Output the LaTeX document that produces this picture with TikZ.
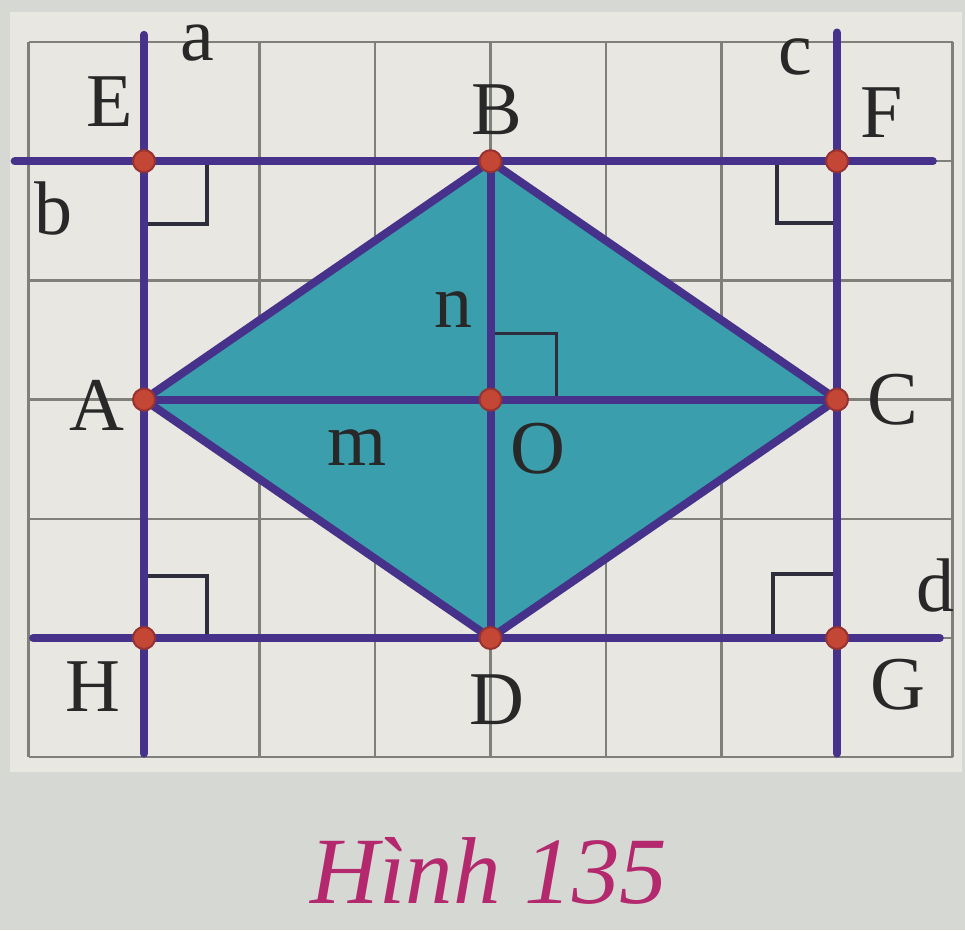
\documentclass[tikz,border=0pt]{standalone}
\usepackage{fontspec}
\setmainfont{Liberation Serif}
\definecolor{bgout}{RGB}{214,216,212}
\definecolor{paper}{RGB}{233,231,225}
\definecolor{gridc}{RGB}{128,128,122}
\definecolor{navy}{RGB}{70,50,138}
\definecolor{teal}{RGB}{58,158,172}
\definecolor{dotc}{RGB}{196,70,52}
\definecolor{dotring}{RGB}{150,50,50}
\definecolor{markc}{RGB}{45,45,60}
\definecolor{capc}{RGB}{180,40,110}
\definecolor{txt}{RGB}{40,40,40}
\tikzset{
  gridline/.style={draw=gridc,line width=2.5pt},
  bold/.style={draw=navy,line width=8pt,line cap=round},
  rhomb/.style={fill=teal,draw=navy,line width=8pt,line join=round},
  rightmark/.style={draw=markc,line width=3.5pt},
  ptdot/.style={fill=dotc,draw=dotring,line width=2pt},
  lbl/.style={text=txt,font=\fontsize{76}{80}\selectfont,inner sep=0pt,anchor=center},
}
\begin{document}
\begin{tikzpicture}[x=1pt,y=-1pt]
\useasboundingbox (0,0) rectangle (965,930);
\fill[bgout] (0,0) rectangle (965,930);
\fill[paper] (10,12) rectangle (962,772);
\begin{scope}[xshift=28.5pt,yshift=-42pt,x=115.5pt,y=-119.2pt]
  \foreach \i in {0,...,8} \draw[gridline] (\i,0) -- (\i,6);
  \foreach \j in {0,...,6} \draw[gridline] (0,\j) -- (8,\j);
  \coordinate (E) at (1,1);
  \coordinate (B) at (4,1);
  \coordinate (F) at (7,1);
  \coordinate (A) at (1,3);
  \coordinate (O) at (4,3);
  \coordinate (C) at (7,3);
  \coordinate (H) at (1,5);
  \coordinate (D) at (4,5);
  \coordinate (G) at (7,5);
  \coordinate (a1) at (1,-0.06);
  \coordinate (a2) at (1,5.97);
  \coordinate (c1) at (7,-0.08);
  \coordinate (c2) at (7,5.97);
  \coordinate (b1) at (-0.12,1);
  \coordinate (b2) at (7.83,1);
  \coordinate (d1) at (0.04,5);
  \coordinate (d2) at (7.89,5);
  \path[rhomb] (A) -- (B) -- (C) -- (D) -- cycle;
  \draw[rightmark] (E) ++(63pt,0pt) -- ++(0pt,-63pt) -- ++(-63pt,0pt);
  \draw[rightmark] (F) ++(-60pt,0pt) -- ++(0pt,-62pt) -- ++(60pt,0pt);
  \draw[rightmark] (H) ++(63pt,0pt) -- ++(0pt,62pt) -- ++(-63pt,0pt);
  \draw[rightmark] (G) ++(-64pt,0pt) -- ++(0pt,64pt) -- ++(64pt,0pt);
  \draw[rightmark] (O) ++(66pt,0pt) -- ++(0pt,66pt) -- ++(-66pt,0pt);
  \draw[bold] (a1) -- (a2);
  \draw[bold] (c1) -- (c2);
  \draw[bold] (b1) -- (b2);
  \draw[bold] (d1) -- (d2);
  \draw[bold] (A) -- (C);
  \draw[bold] (B) -- (D);
  \foreach \p in {E,B,F,A,O,C,H,D,G} \path[ptdot] (\p) circle (11pt);
\end{scope}
\node[lbl] (la) at (197,43) {a};
\node[lbl] (lE) at (110,102) {E};
\node[lbl] (lb) at (53,208) {b};
\node[lbl] (lc) at (795,57) {c};
\node[lbl] (lF) at (882,113) {F};
\node[lbl] (lB) at (497,110) {B};
\node[lbl] (ln) at (453,310) {n};
\node[lbl] (lm) at (357,448) {m};
\node[lbl] (lO) at (538,449) {O};
\node[lbl] (lA) at (97,405) {A};
\node[lbl] (lC) at (893,400) {C};
\node[lbl] (lH) at (93,687) {H};
\node[lbl] (ld) at (935,585) {d};
\node[lbl] (lG) at (898,685) {G};
\node[lbl] (lD) at (497,700) {D};
\node[text=capc,font=\fontsize{95}{100}\selectfont\itshape,inner sep=0pt,anchor=base] (cap) at (489,903) {Hình 135};
\end{tikzpicture}
\end{document}
